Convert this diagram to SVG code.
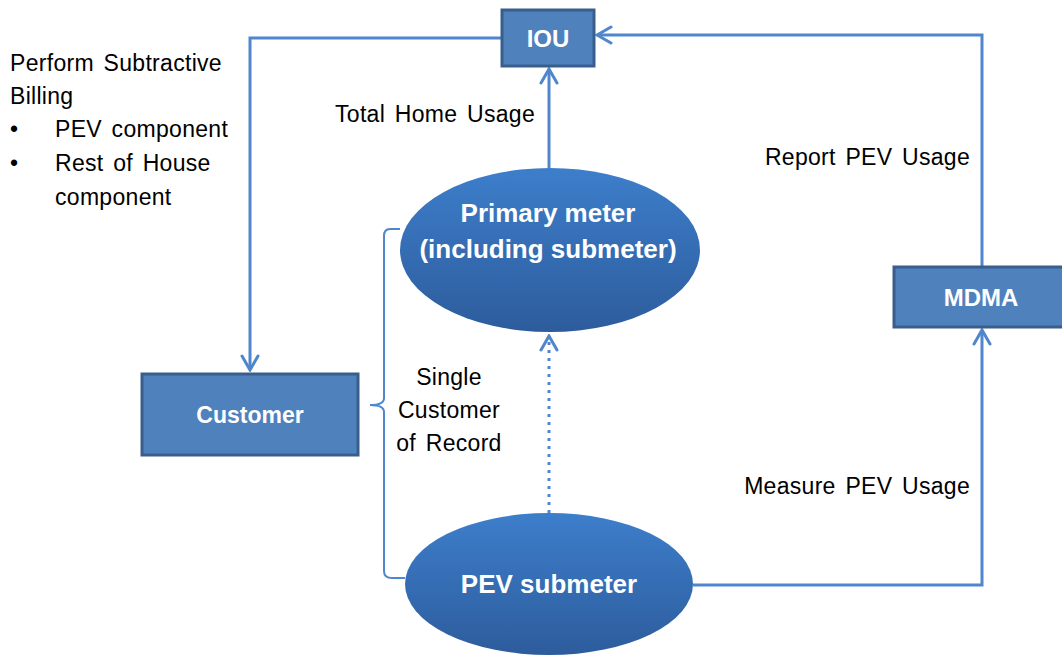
<svg xmlns="http://www.w3.org/2000/svg" width="1062" height="658" viewBox="0 0 1062 658">
<style>
.box{fill:#4f81bd;stroke:#395e8c;stroke-width:3}
.ell{fill:url(#eg)}
.nt{font-family:"Liberation Sans",Arial,sans-serif;font-weight:bold;fill:#ffffff;text-anchor:middle}
.lbl{font-family:"Liberation Sans",Arial,sans-serif;font-size:23px;letter-spacing:0.3px;word-spacing:3px;fill:#000000}
.cn{fill:none;stroke:#4f86cc;stroke-width:3}
</style>
<defs>
<linearGradient id="eg" x1="0" y1="0" x2="0" y2="1">
<stop offset="0" stop-color="#3d7ecb"/>
<stop offset="1" stop-color="#2d5c9c"/>
</linearGradient>
<marker id="ah" viewBox="0 0 20 20" refX="18" refY="10" markerWidth="20" markerHeight="20" markerUnits="userSpaceOnUse" orient="auto">
<path d="M4,2 L18,10 L4,18" fill="none" stroke="#4f86cc" stroke-width="3" stroke-linecap="round"/>
</marker>
</defs>
<g id="connectors">
<path class="cn" d="M502,38 L250,38 L250,370" marker-end="url(#ah)"/>
<path class="cn" d="M982,267 L982,35 L597,35" marker-end="url(#ah)"/>
<path class="cn" d="M549,168 L549,69" marker-end="url(#ah)"/>
<path class="cn" d="M549,513 L549,336" stroke-dasharray="3,5" marker-end="url(#ah)"/>
<path class="cn" d="M693,585 L982,585 L982,330" marker-end="url(#ah)"/>
<path fill="none" stroke="#4f86cc" stroke-width="2" d="M400,229 L390,229 Q384,229 384,236 L384,398 Q384,405 370,405 Q384,405 384,412 L384,571 Q384,578 392,578 L405,578"/>
</g>
<g id="iou">
<rect class="box" x="502" y="10" width="92" height="56"/>
<text class="nt" x="548" y="47" font-size="24">IOU</text>
</g>
<g id="customer">
<rect class="box" x="142" y="374" width="216" height="81"/>
<text class="nt" x="250" y="423" font-size="23">Customer</text>
</g>
<g id="mdma">
<rect class="box" x="894" y="267" width="172" height="60"/>
<text class="nt" x="981" y="306" font-size="24">MDMA</text>
</g>
<g id="primary">
<ellipse class="ell" cx="550" cy="250" rx="150" ry="82"/>
<text class="nt" x="548" y="222" font-size="26">Primary meter</text>
<text class="nt" x="548" y="258" font-size="26">(including submeter)</text>
</g>
<g id="pev">
<ellipse class="ell" cx="549" cy="584" rx="144" ry="71"/>
<text class="nt" x="549" y="593" font-size="26">PEV submeter</text>
</g>
<g id="labels">
<text class="lbl" x="335" y="122">Total Home Usage</text>
<text class="lbl" x="970" y="165" text-anchor="end">Report PEV Usage</text>
<text class="lbl" x="970" y="494" text-anchor="end">Measure PEV Usage</text>
<text class="lbl" x="449" y="385" text-anchor="middle">Single</text>
<text class="lbl" x="449" y="418" text-anchor="middle">Customer</text>
<text class="lbl" x="449" y="451" text-anchor="middle">of Record</text>
<text class="lbl" x="10" y="71">Perform Subtractive</text>
<text class="lbl" x="10" y="104">Billing</text>
<text class="lbl" x="10" y="137">•</text>
<text class="lbl" x="55" y="137">PEV component</text>
<text class="lbl" x="10" y="171">•</text>
<text class="lbl" x="55" y="171">Rest of House</text>
<text class="lbl" x="55" y="205">component</text>
</g>
</svg>
